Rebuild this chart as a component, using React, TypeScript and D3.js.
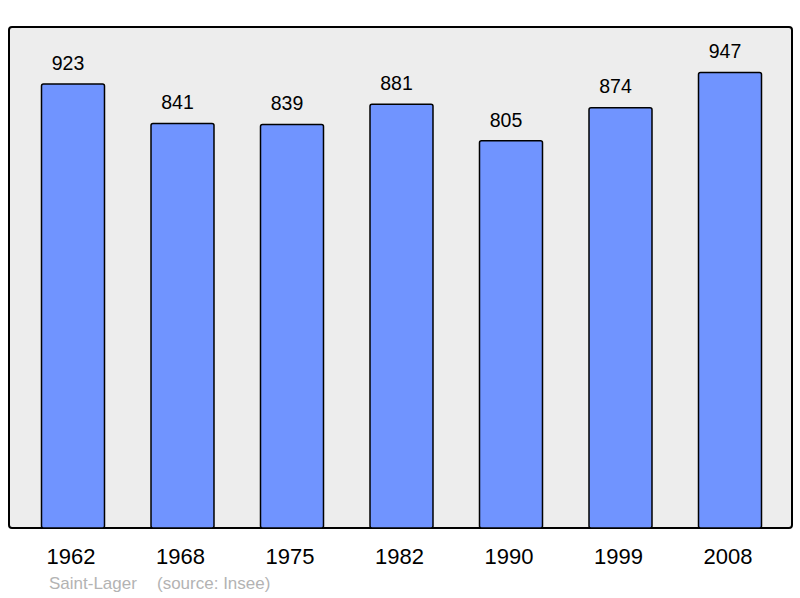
import React from "react";
import * as d3 from "d3";

const years = ["1962", "1968", "1975", "1982", "1990", "1999", "2008"];
const population = [923, 841, 839, 881, 805, 874, 947];
const commune = "Saint-Lager";
const source = "(source: Insee)";

const W = 800;
const H = 598;
const frame = { x0: 9, y0: 27, x1: 792, y1: 528 };

export default function App() {
  const x = d3
    .scaleBand<string>()
    .domain(years)
    .range([41.5, 761.5])
    .paddingInner(0.4247)
    .paddingOuter(0);
  const yMax = d3.max(population)! * 1.1;
  const y = d3.scaleLinear().domain([0, yMax]).range([frame.y1, frame.y0]);
  const font = "'Liberation Sans', Arial, sans-serif";

  return (
    <svg
      width={W}
      height={H}
      style={{ position: "absolute", left: 0, top: 0, display: "block" }}
      fontFamily={font}
    >
      <rect width={W} height={H} fill="#ffffff" />
      <rect
        x={frame.x0}
        y={frame.y0}
        width={frame.x1 - frame.x0}
        height={frame.y1 - frame.y0}
        rx={3}
        fill="#ededed"
        stroke="#000"
        strokeWidth={2}
      />
      {years.map((yr, i) => {
        const bx = x(yr)!;
        const bw = x.bandwidth();
        const top = y(population[i]);
        return (
          <g key={yr}>
            <rect
              x={bx}
              y={top}
              width={bw}
              height={frame.y1 - top}
              rx={2}
              fill="#7094ff"
              stroke="#000"
              strokeWidth={1.5}
            />
            <text
              x={bx + bw / 2 - 5}
              y={top - 14.3}
              textAnchor="middle"
              fontSize={19.5}
              fill="#000"
            >
              {population[i]}
            </text>
            <text
              x={bx + bw / 2 - 2}
              y={564.3}
              textAnchor="middle"
              fontSize={22}
              fill="#000"
            >
              {yr}
            </text>
          </g>
        );
      })}
      <text x={49} y={589} fontSize={17} fill="#b3b3b3">
        {commune}
      </text>
      <text x={157} y={589} fontSize={17} fill="#b3b3b3">
        {source}
      </text>
    </svg>
  );
}
